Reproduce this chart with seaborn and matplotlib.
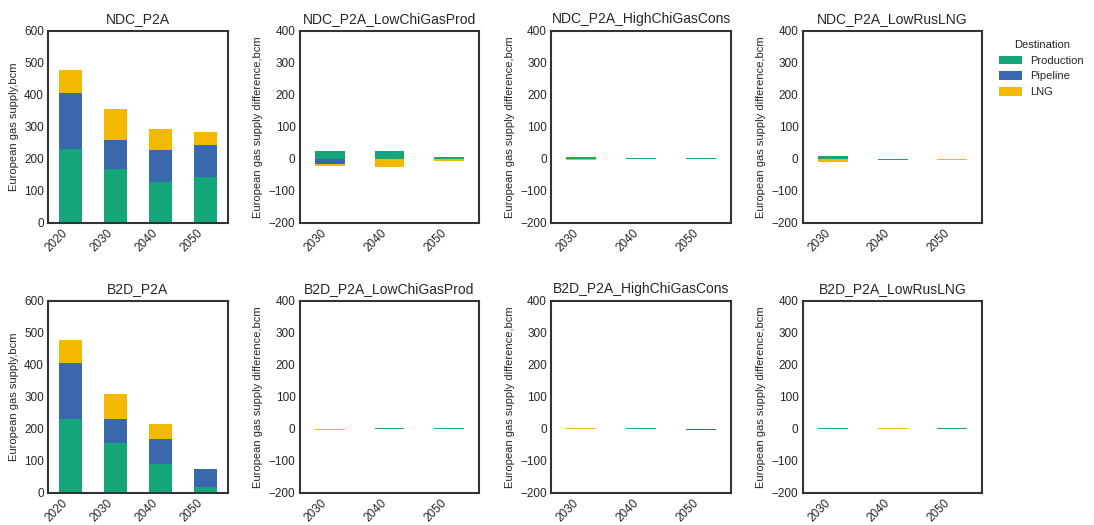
import matplotlib
matplotlib.use("Agg")
import matplotlib.pyplot as plt
from matplotlib.patches import Patch
import numpy as np
import pandas as pd
import seaborn as sns

sns.set_theme(style="white")
plt.rcParams["font.family"] = ["Liberation Sans", "DejaVu Sans"]
plt.rcParams["text.color"] = "#262626"
plt.rcParams["axes.labelcolor"] = "#262626"
plt.rcParams["xtick.color"] = "#262626"
plt.rcParams["ytick.color"] = "#262626"

# ---- data (bcm) ----
sources = ["Production", "Pipeline", "LNG"]
colors = ["#14a67a", "#3a68ae", "#f3b800"]

years_base = ["2020", "2030", "2040", "2050"]
years_diff = ["2030", "2040", "2050"]

# Baseline scenarios: absolute supply by source
ndc_production = [232, 170, 128, 145]
ndc_pipeline = [173, 90, 100, 100]
ndc_lng = [73, 97, 67, 40]

b2d_production = [232, 155, 90, 18]
b2d_pipeline = [173, 75, 80, 58]
b2d_lng = [73, 80, 47, 0]

# Sensitivity scenarios: difference to baseline
ndc_lowchi_production = [24, 24, 6]
ndc_lowchi_pipeline = [-16, 0, 0]
ndc_lowchi_lng = [-7, -25, -6]

ndc_highchi_production = [7, 3, 2]
ndc_highchi_pipeline = [0, 0, 0]
ndc_highchi_lng = [-4, 0, 0]

ndc_lowrus_production = [9, -3, 0]
ndc_lowrus_pipeline = [0, 0, 0]
ndc_lowrus_lng = [-10, 0, -2]

b2d_lowchi_production = [0, 1.5, 1.5]
b2d_lowchi_pipeline = [-1.5, 0, 0]
b2d_lowchi_lng = [-3, 0, 0]

b2d_highchi_production = [0, 3.5, 0]
b2d_highchi_pipeline = [0, 0, -4]
b2d_highchi_lng = [3.5, 0, 0]

b2d_lowrus_production = [1.5, 0, 1.5]
b2d_lowrus_pipeline = [0, 0, 0]
b2d_lowrus_lng = [0, 1.5, -1.5]

panels = [
    ("NDC_P2A", years_base, [ndc_production, ndc_pipeline, ndc_lng], False),
    ("NDC_P2A_LowChiGasProd", years_diff, [ndc_lowchi_production, ndc_lowchi_pipeline, ndc_lowchi_lng], True),
    ("NDC_P2A_HighChiGasCons", years_diff, [ndc_highchi_production, ndc_highchi_pipeline, ndc_highchi_lng], True),
    ("NDC_P2A_LowRusLNG", years_diff, [ndc_lowrus_production, ndc_lowrus_pipeline, ndc_lowrus_lng], True),
    ("B2D_P2A", years_base, [b2d_production, b2d_pipeline, b2d_lng], False),
    ("B2D_P2A_LowChiGasProd", years_diff, [b2d_lowchi_production, b2d_lowchi_pipeline, b2d_lowchi_lng], True),
    ("B2D_P2A_HighChiGasCons", years_diff, [b2d_highchi_production, b2d_highchi_pipeline, b2d_highchi_lng], True),
    ("B2D_P2A_LowRusLNG", years_diff, [b2d_lowrus_production, b2d_lowrus_pipeline, b2d_lowrus_lng], True),
]

fig, axes = plt.subplots(2, 4, figsize=(10.94, 5.25), dpi=100)
fig.subplots_adjust(left=0.044, right=0.898, top=0.941, bottom=0.061,
                    wspace=0.4, hspace=0.406)


def stacked_bars(ax, years, series):
    """Stack positive values upward and negative values downward."""
    vals = np.array(series, dtype=float)
    pos = np.cumsum(np.clip(vals, 0, None), axis=0)
    neg = np.cumsum(np.clip(vals, None, 0), axis=0)
    # Draw cumulative totals from the outermost layer inward
    for i in reversed(range(len(series))):
        for cum in (pos[i], neg[i]):
            df = pd.DataFrame({"year": years, "value": cum})
            sns.barplot(data=df, x="year", y="value", order=years,
                        color=colors[i], saturation=1, width=0.5,
                        linewidth=0, errorbar=None, ax=ax)


for ax, (title, years, series, is_diff) in zip(axes.flat, panels):
    stacked_bars(ax, years, series)
    ax.set_title(title, fontsize=10, pad=6)
    ax.set_xlabel("")
    if is_diff:
        ax.set_ylim(-200, 400)
        ax.set_yticks(range(-200, 401, 100))
        ax.set_ylabel("European gas supply difference,bcm", fontsize=8)
    else:
        ax.set_ylim(0, 600)
        ax.set_yticks(range(0, 601, 100))
        ax.set_ylabel("European gas supply,bcm", fontsize=8)
    ax.set_xlim(-0.5, len(years) - 0.5)
    ax.tick_params(axis="y", labelsize=8.5, length=0, pad=3)
    ax.tick_params(axis="x", labelsize=8.5, length=0, pad=3)
    for lbl in ax.get_xticklabels():
        lbl.set_rotation(45)
        lbl.set_ha("right")
    for sp in ax.spines.values():
        sp.set_color("#333333")
        sp.set_linewidth(1.5)

handles = [Patch(facecolor=c, edgecolor="none", label=s) for c, s in zip(colors, sources)]
fig.legend(handles=handles, title="Destination", loc="upper left",
           bbox_to_anchor=(0.9095, 0.932), frameon=False, fontsize=8,
           title_fontsize=8, handlelength=2.0, handleheight=0.8,
           borderaxespad=0)

fig.savefig("out.png", dpi=100)
